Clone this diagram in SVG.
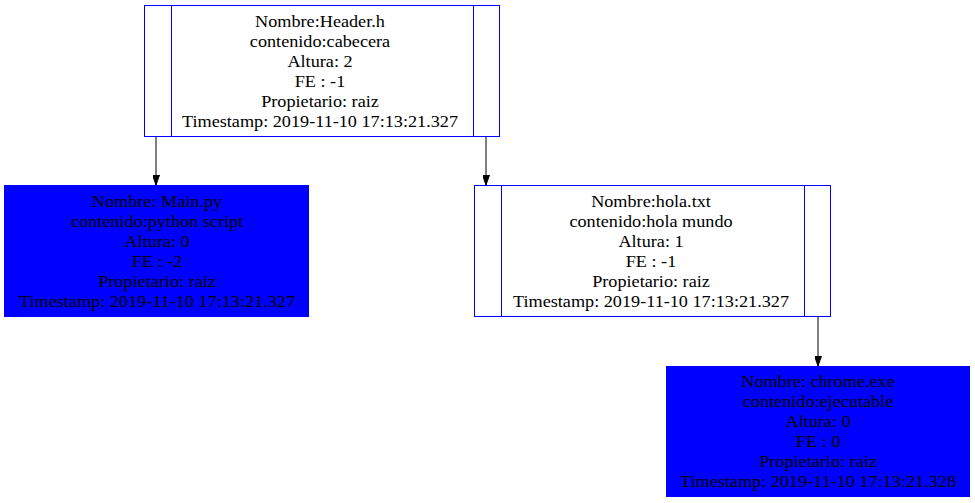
<svg xmlns="http://www.w3.org/2000/svg" width="975" height="503" viewBox="0 0 975 503">
<style>
.n{fill:#ffffff;stroke:#0000ff;stroke-width:1}
.f{fill:#0000ff;stroke:#0000ff;stroke-width:1}
.d{stroke:#0000ff;stroke-width:1}
text{font-family:"Liberation Serif","Times New Roman",serif;font-size:16.7px;fill:#000000;text-anchor:middle}
.e{stroke:#000000;stroke-width:1;fill:none}
</style>
<defs>
<marker id="ah" markerWidth="10" markerHeight="7" refX="10" refY="3.5" orient="auto" markerUnits="userSpaceOnUse">
<polygon points="0,0 10,3.5 0,7" fill="#000000" stroke="#000000"/>
</marker>
</defs>
<rect width="975" height="503" fill="#ffffff"/>
<g id="connectors">
<line class="e" x1="156" y1="136" x2="156" y2="185" marker-end="url(#ah)"/>
<line class="e" x1="486" y1="136" x2="486" y2="185" marker-end="url(#ah)"/>
<line class="e" x1="818" y1="317" x2="818" y2="366" marker-end="url(#ah)"/>
</g>
<g id="header">
<rect class="n" x="144.5" y="5.5" width="355" height="131"/>
<line class="d" x1="171.5" y1="5.5" x2="171.5" y2="136.5"/>
<line class="d" x1="473.5" y1="5.5" x2="473.5" y2="136.5"/>
<g transform="translate(320,0) scale(1.09,1)">
<text x="0" y="27">Nombre:Header.h</text>
<text x="0" y="47">contenido:cabecera</text>
<text x="0" y="67">Altura: 2</text>
<text x="0" y="87">FE : -1</text>
<text x="0" y="107">Propietario: raiz</text>
<text x="0" y="127">Timestamp: 2019-11-10 17:13:21.327</text>
</g>
</g>
<g id="main">
<rect class="f" x="4.5" y="185.5" width="304" height="131"/>
<g transform="translate(157,0) scale(1.09,1)">
<text x="0" y="207">Nombre: Main.py</text>
<text x="0" y="227">contenido:python script</text>
<text x="0" y="247">Altura: 0</text>
<text x="0" y="267">FE : -2</text>
<text x="0" y="287">Propietario: raiz</text>
<text x="0" y="307">Timestamp: 2019-11-10 17:13:21.327</text>
</g>
</g>
<g id="hola">
<rect class="n" x="474.5" y="185.5" width="356" height="131"/>
<line class="d" x1="501.5" y1="185.5" x2="501.5" y2="316.5"/>
<line class="d" x1="804.5" y1="185.5" x2="804.5" y2="316.5"/>
<g transform="translate(651,0) scale(1.09,1)">
<text x="0" y="207">Nombre:hola.txt</text>
<text x="0" y="227">contenido:hola mundo</text>
<text x="0" y="247">Altura: 1</text>
<text x="0" y="267">FE : -1</text>
<text x="0" y="287">Propietario: raiz</text>
<text x="0" y="307">Timestamp: 2019-11-10 17:13:21.327</text>
</g>
</g>
<g id="chrome">
<rect class="f" x="666.5" y="366.5" width="303" height="130"/>
<g transform="translate(818,0) scale(1.09,1)">
<text x="0" y="387">Nombre: chrome.exe</text>
<text x="0" y="407">contenido:ejecutable</text>
<text x="0" y="427">Altura: 0</text>
<text x="0" y="447">FE : 0</text>
<text x="0" y="467">Propietario: raiz</text>
<text x="0" y="487">Timestamp: 2019-11-10 17:13:21.328</text>
</g>
</g>
</svg>
